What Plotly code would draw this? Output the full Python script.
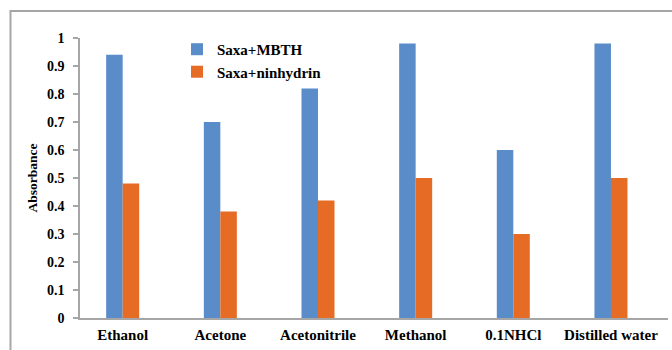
import plotly.graph_objects as go

# Absorbance of saxagliptin derivatives in different solvents
solvents = ["Ethanol", "Acetone", "Acetonitrile", "Methanol", "0.1NHCl", "Distilled water"]
mbth = [0.94, 0.70, 0.82, 0.98, 0.60, 0.98]
ninhydrin = [0.48, 0.38, 0.42, 0.50, 0.30, 0.50]
y_ticks = [0, 0.1, 0.2, 0.3, 0.4, 0.5, 0.6, 0.7, 0.8, 0.9, 1]
y_tick_text = ["0", "0.1", "0.2", "0.3", "0.4", "0.5", "0.6", "0.7", "0.8", "0.9", "1"]

BLUE = "#5A8CCA"
ORANGE = "#E66C25"
FONT = "Liberation Serif, Times New Roman, serif"

fig = go.Figure()
fig.add_trace(go.Bar(x=solvents, y=mbth, name="<b>Saxa+MBTH</b>",
                     marker=dict(color=BLUE, line=dict(width=0))))
fig.add_trace(go.Bar(x=solvents, y=ninhydrin, name="<b>Saxa+ninhydrin</b>",
                     marker=dict(color=ORANGE, line=dict(width=0))))

fig.update_layout(
    width=672, height=350,
    margin=dict(l=80, r=4, t=38, b=32),
    paper_bgcolor="white", plot_bgcolor="white",
    barmode="group", bargap=0.662, bargroupgap=0,
    font=dict(family=FONT, color="black"),
    showlegend=True,
    legend=dict(x=0.165, y=1.018, xanchor="left", yanchor="top",
                bgcolor="rgba(0,0,0,0)", font=dict(size=15, family=FONT),
                itemwidth=30, tracegroupgap=0),
    xaxis=dict(type="category", range=[-0.437, 5.584],
               showline=True, linecolor="#A6A6A6", linewidth=1.5,
               ticks="", showgrid=False, zeroline=False,
               ticklabelstandoff=2,
               tickfont=dict(size=15, family=FONT),
               tickprefix="<b>", ticksuffix="</b>"),
    yaxis=dict(range=[0, 1], tickvals=y_ticks, ticktext=["<b>%s</b>" % t for t in y_tick_text],
               showline=True, linecolor="#A6A6A6", linewidth=1.5,
               ticks="outside", ticklen=5, tickcolor="#A6A6A6", tickwidth=1.5,
               ticklabelstandoff=6,
               showgrid=False, zeroline=False,
               tickfont=dict(size=14, family=FONT),
               title=dict(text="<b>Absorbance</b>", font=dict(size=13.5, family=FONT), standoff=6)),
    shapes=[dict(type="rect", xref="paper", yref="paper",
                 x0=-0.1182, x1=1.2, y0=-0.3, y1=1.0964,
                 line=dict(color="#A6A6A6", width=2), fillcolor="rgba(0,0,0,0)", layer="below")],
)

fig.write_html("out.html")
